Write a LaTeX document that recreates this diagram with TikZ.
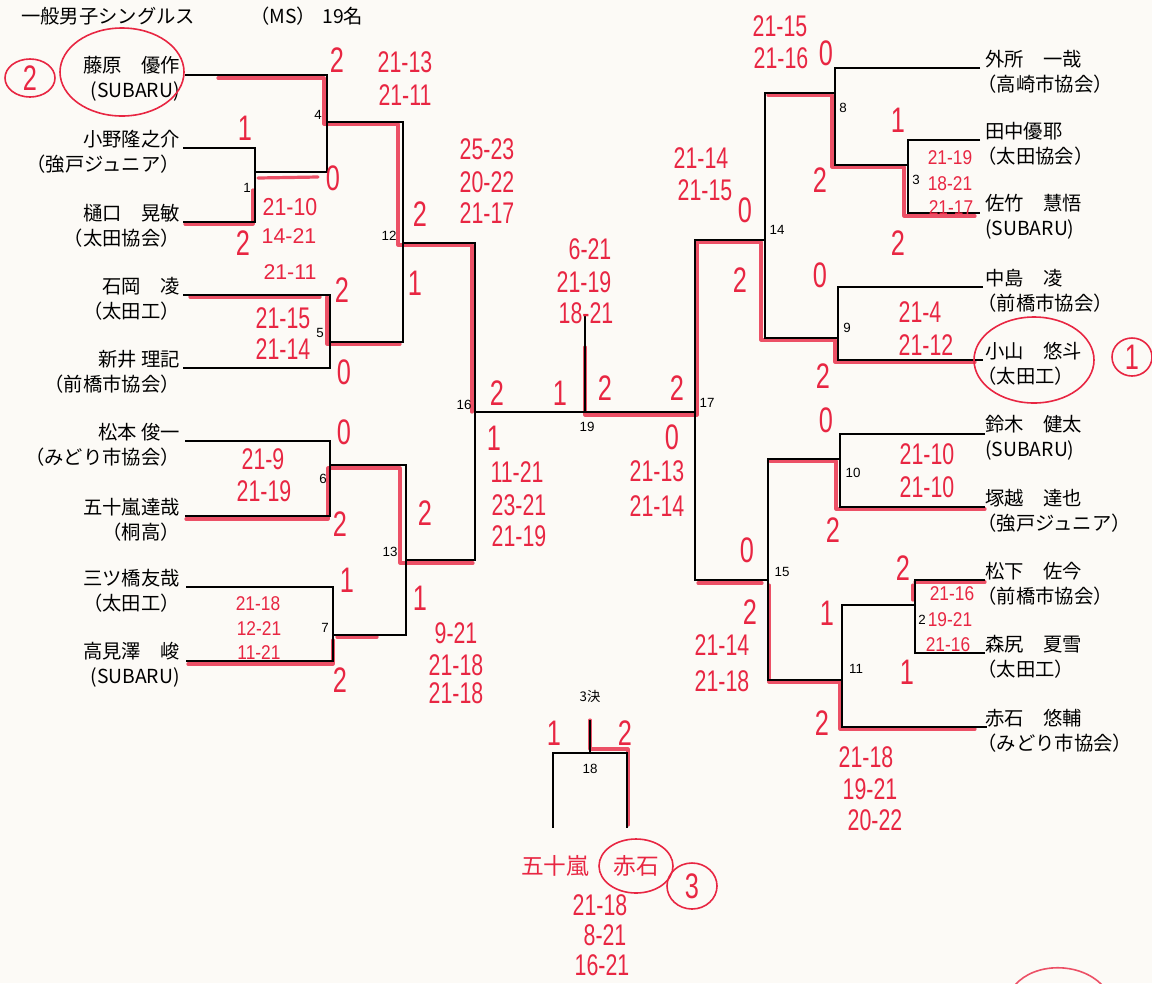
\documentclass[tikz,border=0pt]{standalone}
\usepackage{fontspec}
\usepackage{graphicx}
\setmainfont{Liberation Sans}
\newfontfamily\jp{Noto Sans CJK JP}
\newfontfamily\hwf{Liberation Sans}
\definecolor{paper}{RGB}{252,250,246}
\definecolor{pen}{RGB}{232,38,66}
\tikzset{
  br/.style={line width=1.4pt, black},
  hl/.style={line width=2.4pt, pen, opacity=0.8, line cap=round, line join=round},
  hlc/.style={line width=1.2pt, pen},
  lname/.style={anchor=east, align=right, inner sep=0pt, font=\jp\fontsize{14.5}{18.5}\selectfont},
  rname/.style={anchor=west, align=left, inner sep=0pt, font=\jp\fontsize{14.5}{18.5}\selectfont},
  mn/.style={inner sep=0pt, font=\fontsize{10}{11}\selectfont},
  ttl/.style={anchor=west, inner sep=0pt, font=\jp\fontsize{14.5}{16}\selectfont},
  hw/.style={text=pen, inner sep=0pt, font=\hwf\fontsize{16}{18}\selectfont},
  hws/.style={hw, font=\hwf\fontsize{13}{15}\selectfont},
  hwb/.style={hw, font=\hwf\fontsize{19}{21}\selectfont},
  hwj/.style={text=pen, inner sep=0pt, font=\jp\fontsize{17}{19}\selectfont},
}
\newcommand\HW[4][hw]{\node[#1] (#2) at (#3) {\scalebox{1}[1.4]{#4}};}
\newcommand\HWt[4][hw]{\node[#1] (#2) at (#3) {\scalebox{1}[1.15]{#4}};}
\newcommand\HWn[4][hw]{\node[#1] (#2) at (#3) {#4};}
\newcommand\LP{\kern-0.4em（}
\begin{document}
\begin{tikzpicture}[x=0.75pt,y=-0.75pt]
\fill[paper] (0,0) rectangle (1152,983);
\useasboundingbox (0,0) rectangle (1152,983);

% ---------- red highlight lines ----------
\draw[hl] (218,78) -- (324,78) -- (324,124) -- (398,124) -- (398,245) -- (472,245) -- (472,412);
\draw[hl] (185,224) -- (253,224) -- (253,190);
\draw[hl] (258,178) -- (318,177);
\draw[hl] (190,297) -- (320,297);
\draw[hl] (327,297) -- (327,344) -- (400,344);
\draw[hl] (186,519) -- (328,519) -- (328,468) -- (400,468) -- (400,563) -- (473,563);
\draw[hl] (188,664) -- (333,664) -- (333,640);
\draw[hl] (337,637) -- (377,637);
\draw[hl] (585,347) -- (585,415) -- (697,415) -- (697,242) -- (761,242) -- (761,340) -- (835,340) -- (835,362) -- (975,362);
\draw[hl] (768,95) -- (832,95) -- (832,167) -- (904,167) -- (904,216) -- (975,216);
\draw[hl] (770,461) -- (836,461) -- (836,509) -- (985,509);
\draw[hl] (698,583) -- (762,583);
\draw[hl] (769,585) -- (769,682) -- (840,682) -- (840,729) -- (975,729);
\draw[hl] (915,582) -- (985,582);
\draw[hl] (913,585) -- (913,600);
\draw[hl] (590,720) -- (590,749) -- (628,749) -- (628,825);
\draw[hl, line width=1.2pt] (1015,985) .. controls (1035,962) and (1080,962) .. (1102,985);

% ---------- bracket (black) ----------
\draw[br] (185,75) -- (327,75) -- (327,172) -- (255,172);
\draw[br] (183,148) -- (255,148) -- (255,222) -- (183,222);
\draw[br] (327,122) -- (403,122) -- (403,342) -- (330,342);
\draw[br] (183,295) -- (330,295) -- (330,368) -- (183,368);
\draw[br] (403,243) -- (475,243) -- (475,560) -- (406,560);
\draw[br] (185,441) -- (330,441) -- (330,516) -- (185,516);
\draw[br] (330,465) -- (406,465) -- (406,635) -- (333,635);
\draw[br] (186,587) -- (333,587) -- (333,661) -- (186,661);
\draw[br] (475,412) -- (695,412);
\draw[br] (585,315) -- (585,412);
\draw[br] (765,240) -- (695,240) -- (695,580) -- (768,580);
\draw[br] (835,93) -- (765,93) -- (765,338) -- (838,338);
\draw[br] (980,68) -- (835,68) -- (835,165) -- (908,165);
\draw[br] (980,140) -- (908,140) -- (908,213) -- (980,213);
\draw[br] (983,287) -- (838,287) -- (838,360) -- (983,360);
\draw[br] (840,459) -- (768,459) -- (768,680) -- (842,680);
\draw[br] (985,434) -- (840,434) -- (840,507) -- (985,507);
\draw[br] (915,605) -- (842,605) -- (842,727) -- (987,727);
\draw[br] (985,580) -- (915,580) -- (915,653) -- (985,653);
\draw[br] (553,828) -- (553,753) -- (627,753) -- (627,828);
\draw[br] (590,720) -- (590,753);

% ---------- title ----------
\node[ttl] (title) at (21,16) {一般男子シングルス};
\node[ttl] (ms) at (250,16) {（MS）};
\node[ttl] (num) at (322,16) {19名};

% ---------- names ----------
\node[lname] (l1) at (180,79) {藤原　優作\\(SUBARU)};
\node[lname] (l2) at (180,152) {小野隆之介\\（強戸ジュニア）};
\node[lname] (l3) at (180,226) {樋口　晃敏\\（太田協会）};
\node[lname] (l4) at (180,299) {石岡　凌\\（太田工）};
\node[lname] (l5) at (180,372) {新井 理記\\（前橋市協会）};
\node[lname] (l6) at (180,445) {松本 俊一\\（みどり市協会）};
\node[lname] (l7) at (180,520) {五十嵐達哉\\（桐高）};
\node[lname] (l8) at (180,591) {三ツ橋友哉\\（太田工）};
\node[lname] (l9) at (180,665) {高見澤　峻\\(SUBARU)};

\node[rname] (r1) at (985,72) {外所　一哉\\\LP 高崎市協会）};
\node[rname] (r2) at (985,144) {田中優耶\\\LP 太田協会）};
\node[rname] (r3) at (985,217) {佐竹　慧悟\\(SUBARU)};
\node[rname] (r4) at (985,291) {中島　凌\\\LP 前橋市協会）};
\node[rname] (r5) at (985,364) {小山　悠斗\\\LP 太田工）};
\node[rname] (r6) at (985,438) {鈴木　健太\\(SUBARU)};
\node[rname] (r7) at (985,511) {塚越　達也\\\LP 強戸ジュニア）};
\node[rname] (r8) at (985,584) {松下　佐今\\\LP 前橋市協会）};
\node[rname] (r9) at (985,657) {森尻　夏雪\\\LP 太田工）};
\node[rname] (r10) at (985,731) {赤石　悠輔\\\LP みどり市協会）};

% ---------- match numbers ----------
\node[mn] (n4) at (318,115) {4};
\node[mn] (n1) at (247,188) {1};
\node[mn] (n12) at (389,236) {12};
\node[mn] (n5) at (320,333) {5};
\node[mn] (n6) at (323,479) {6};
\node[mn] (n7) at (325,628) {7};
\node[mn] (n13) at (390,552) {13};
\node[mn] (n16) at (464,405) {16};
\node[mn] (n19) at (587,427) {19};
\node[mn] (n17) at (707,403) {17};
\node[mn] (n14) at (777,230) {14};
\node[mn] (n8) at (843,108) {8};
\node[mn] (n3) at (916,180) {3};
\node[mn] (n9) at (847,328) {9};
\node[mn] (n10) at (853,473) {10};
\node[mn] (n15) at (782,572) {15};
\node[mn] (n2) at (922,620) {2};
\node[mn] (n11) at (856,669) {11};
\node[mn] (n18) at (590,769) {18};
\node[mn, font=\jp\fontsize{10}{11}\selectfont] (n3k) at (590,696) {3決};

% ---------- handwritten circles ----------
\draw[hlc] (30,78) ellipse [x radius=25, y radius=19];
\draw[hlc] (122,72) ellipse [x radius=62, y radius=44];
\draw[hlc] (1034,360) ellipse [x radius=60, y radius=43];
\draw[hlc] (1132,357) ellipse [x radius=20, y radius=19];
\draw[hlc] (636,866) ellipse [x radius=37, y radius=27];
\draw[hlc] (692,886) ellipse [x radius=25, y radius=23];

% ---------- handwritten scores ----------
\HW[hwb]{c2}{30,78}{2}
\HW[hwb]{c1}{1132,357}{1}
\HW[hwb]{c3}{692,886}{3}
\node[hwj] (t84) at (555,866) {五十嵐};
\node[hwj] (t85) at (636,866) {赤石};

\HW[hwb]{t01}{337,60}{2}
\HW{t02}{405,62}{21-13}
\HW{t03}{405,95}{21-11}
\HW[hwb]{t04}{245,128}{1}
\HW[hwb]{t05}{333,178}{0}
\HWt{t06}{290,207}{21-10}
\HW[hwb]{t07}{243,243}{2}
\HWn{t08}{289,236}{14-21}
\HWn{t09}{290,272}{21-11}
\HW[hwb]{t10}{420,214}{2}
\HW[hwb]{t11}{415,283}{1}
\HW{t12}{487,149}{25-23}
\HW{t13}{487,182}{20-22}
\HW{t14}{487,213}{21-17}
\HW[hwb]{t15}{342,290}{2}
\HW{t16}{283,318}{21-15}
\HW{t17}{283,349}{21-14}
\HW[hwb]{t18}{344,372}{0}
\HW[hwb]{t19}{344,432}{0}
\HW{t20}{263,459}{21-9}
\HW{t21}{264,491}{21-19}
\HW[hwb]{t22}{340,524}{2}
\HW[hwb]{t23}{425,513}{2}
\HW[hwb]{t24}{420,598}{1}
\HW[hwb]{t25}{347,580}{1}
\HWt[hws]{t26}{258,604}{21-18}
\HWt[hws]{t27}{259,629}{12-21}
\HWt[hws]{t28}{259,653}{11-21}
\HW[hwb]{t29}{340,680}{2}
\HW{t30}{456,633}{9-21}
\HW{t31}{456,665}{21-18}
\HW{t32}{456,693}{21-18}
\HW[hwb]{t33}{497,393}{2}
\HW[hwb]{t34}{560,393}{1}
\HW[hwb]{t35}{605,388}{2}
\HW[hwb]{t36}{677,388}{2}
\HW[hwb]{t37}{494,438}{1}
\HW{t38}{517,472}{11-21}
\HW{t39}{519,505}{23-21}
\HW{t40}{519,536}{21-19}
\HW[hwb]{t41}{672,437}{0}
\HW{t42}{657,471}{21-13}
\HW{t43}{657,506}{21-14}
\HW{t44}{590,249}{6-21}
\HW{t45}{584,282}{21-19}
\HW{t46}{586,313}{18-21}
\HW{t47}{701,158}{21-14}
\HW{t48}{705,190}{21-15}
\HW[hwb]{t49}{745,210}{0}
\HW[hwb]{t50}{740,280}{2}
\HW{t51}{780,26}{21-15}
\HW{t52}{781,58}{21-16}
\HW[hwb]{t53}{826,53}{0}
\HW[hwb]{t54}{898,120}{1}
\HW[hwb]{t55}{820,180}{2}
\HWt[hws]{t56}{950,158}{21-19}
\HWt[hws]{t57}{950,184}{18-21}
\HWt[hws]{t58}{951,208}{21-17}
\HW[hwb]{t59}{898,243}{2}
\HW[hwb]{t60}{820,275}{0}
\HW{t61}{920,312}{21-4}
\HW{t62}{926,345}{21-12}
\HW[hwb]{t63}{823,376}{2}
\HW[hwb]{t64}{826,420}{0}
\HW{t65}{927,454}{21-10}
\HW{t66}{927,487}{21-10}
\HW[hwb]{t67}{833,530}{2}
\HW[hwb]{t68}{747,550}{0}
\HW[hwb]{t69}{903,568}{2}
\HWt[hws]{t70}{952,594}{21-16}
\HWt[hws]{t71}{950,620}{19-21}
\HWt[hws]{t72}{948,645}{21-16}
\HW[hwb]{t73}{827,613}{1}
\HW[hwb]{t74}{750,612}{2}
\HW{t75}{722,645}{21-14}
\HW{t76}{722,681}{21-18}
\HW[hwb]{t77}{907,672}{1}
\HW[hwb]{t78}{822,723}{2}
\HW{t79}{866,757}{21-18}
\HW{t80}{870,789}{19-21}
\HW{t81}{875,820}{20-22}
\HW[hwb]{t82}{554,733}{1}
\HW[hwb]{t83}{625,733}{2}
\HW{t87}{600,905}{21-18}
\HW{t88}{605,935}{8-21}
\HW{t89}{602,965}{16-21}
\end{tikzpicture}
\end{document}
